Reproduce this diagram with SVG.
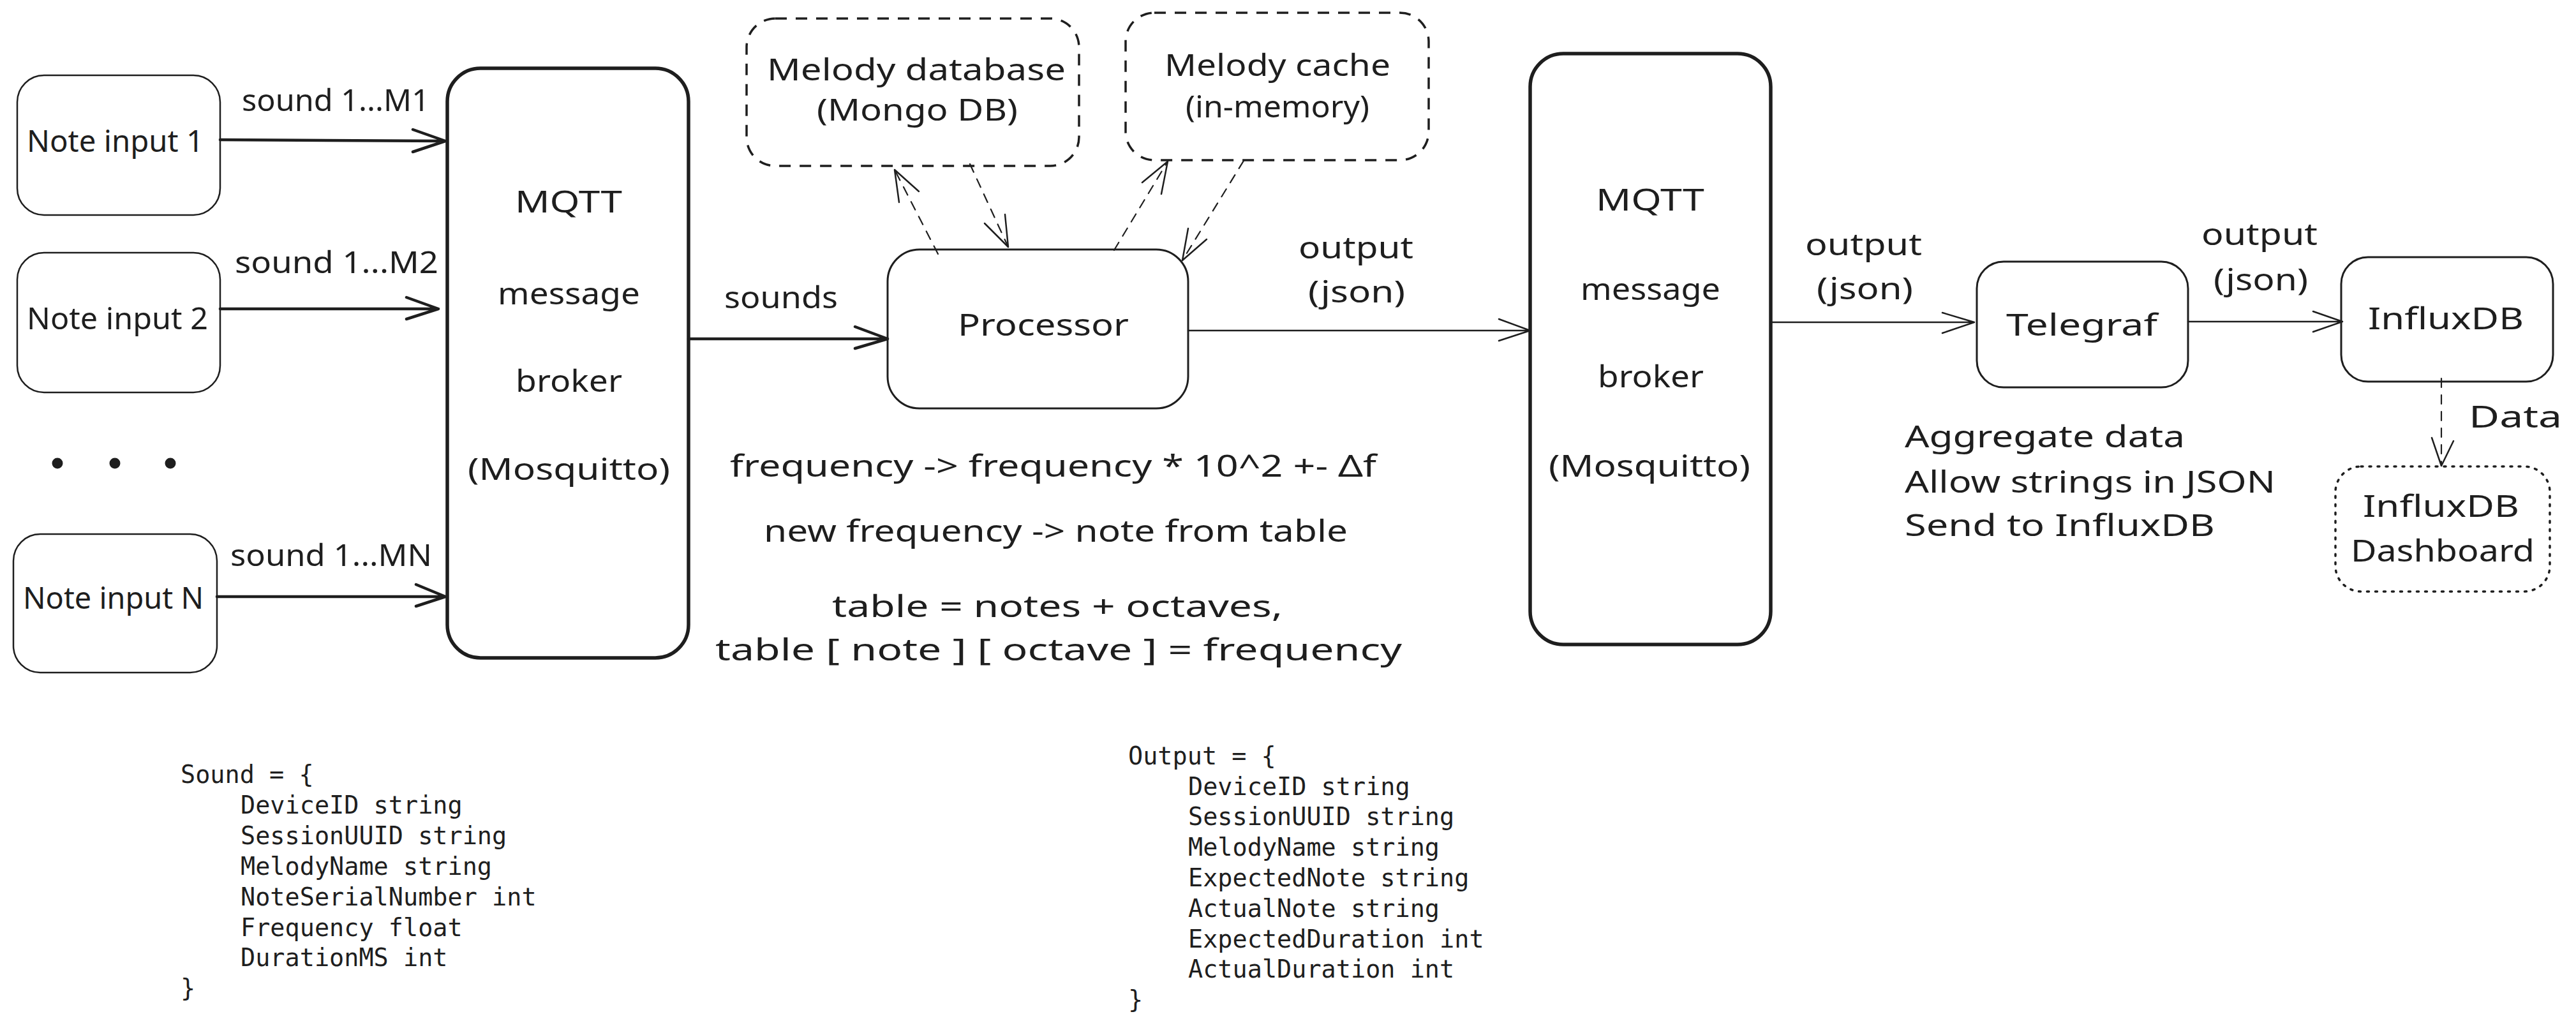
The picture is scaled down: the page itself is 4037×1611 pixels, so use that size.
<svg xmlns="http://www.w3.org/2000/svg" width="4037" height="1611" viewBox="0 0 4037 1611">
<defs>
<style>
.bg{fill:#ffffff}
.box{fill:none;stroke:#1e1e1e;stroke-width:3;stroke-linejoin:round}
.thin{stroke-width:2.5}
.thick{stroke-width:5.5}
.dash{stroke-dasharray:18 14;stroke-width:3.5}
.dot{stroke-dasharray:3 10;stroke-width:3.5;stroke-linecap:round}
.ln{fill:none;stroke:#1e1e1e;stroke-linecap:round;stroke-linejoin:round}
.l4{stroke-width:4.5}
.l2{stroke-width:2.5}
.ld{stroke-width:2.2;stroke-dasharray:14 12}
.t{font-family:"Noto Sans","DejaVu Sans",sans-serif;font-size:48px;fill:#1e1e1e}
.c{font-family:"DejaVu Sans Mono","Liberation Mono",monospace;font-size:38.5px;fill:#1e1e1e}
</style>
</defs>
<rect class="bg" x="0" y="0" width="4037" height="1611"/>

<g id="connectors">
  <!-- note inputs to broker -->
  <path class="ln l4" d="M345 219 L698 221 M647 203 L698 221 L647 238"/>
  <path class="ln l4" d="M345 484 L687 484 M637 466 L687 484 L637 500"/>
  <path class="ln l4" d="M340 935 L698 935 M652 916 L698 935 L652 950"/>
  <!-- broker to processor -->
  <path class="ln l4" d="M1079 531 L1391 531 M1340 512 L1391 531 L1340 546"/>
  <!-- processor to broker 2 -->
  <path class="ln l2" d="M1862 518 L2398 518 M2349 500 L2398 518 L2349 534"/>
  <!-- broker 2 to telegraf -->
  <path class="ln l2" d="M2775 505 L3094 505 M3044 490 L3094 505 L3044 522"/>
  <!-- telegraf to influx -->
  <path class="ln l2" d="M3429 504 L3671 504 M3625 488 L3671 504 L3625 520"/>
  <!-- dashed DB/cache arrows -->
  <path class="ln ld" d="M1470 398 L1402 266"/>
  <path class="ln l2" d="M1409 317 L1402 266 L1440 300"/>
  <path class="ln ld" d="M1520 257 L1580 387"/>
  <path class="ln l2" d="M1543 350 L1580 387 L1575 336"/>
  <path class="ln ld" d="M1746 392 L1830 253"/>
  <path class="ln l2" d="M1790 286 L1830 253 L1820 304"/>
  <path class="ln ld" d="M1949 252 L1853 408"/>
  <path class="ln l2" d="M1862 358 L1853 408 L1891 375"/>
  <!-- influx to dashboard -->
  <path class="ln ld" d="M3826 593 L3826 730"/>
  <path class="ln l2" d="M3811 686 L3826 730 L3845 691"/>
</g>

<g id="note-input-1">
  <rect class="box thin" x="27" y="118" width="318" height="219" rx="42"/>
  <text class="t" x="42" y="238" textLength="277" lengthAdjust="spacingAndGlyphs">Note input 1</text>
</g>
<g id="note-input-2">
  <rect class="box thin" x="27" y="396" width="318" height="219" rx="42"/>
  <text class="t" x="42" y="516" textLength="284" lengthAdjust="spacingAndGlyphs">Note input 2</text>
</g>
<g id="ellipsis">
  <circle cx="90" cy="726" r="8.5" fill="#1e1e1e"/>
  <circle cx="180" cy="726" r="8.5" fill="#1e1e1e"/>
  <circle cx="267" cy="726" r="8.5" fill="#1e1e1e"/>
</g>
<g id="note-input-n">
  <rect class="box thin" x="21" y="837" width="319" height="217" rx="42"/>
  <text class="t" x="36" y="954" textLength="283" lengthAdjust="spacingAndGlyphs">Note input N</text>
</g>

<g id="labels-sound">
  <text class="t" x="379" y="174" textLength="294" lengthAdjust="spacingAndGlyphs">sound 1...M1</text>
  <text class="t" x="368" y="428" textLength="319" lengthAdjust="spacingAndGlyphs">sound 1...M2</text>
  <text class="t" x="361" y="887" textLength="316" lengthAdjust="spacingAndGlyphs">sound 1...MN</text>
  <text class="t" x="1135" y="483" textLength="178" lengthAdjust="spacingAndGlyphs">sounds</text>
</g>

<g id="broker-1">
  <rect class="box thick" x="701" y="107" width="378" height="924" rx="52"/>
  <text class="t" x="807" y="333" textLength="168" lengthAdjust="spacingAndGlyphs">MQTT</text>
  <text class="t" x="780" y="477" textLength="223" lengthAdjust="spacingAndGlyphs">message</text>
  <text class="t" x="808" y="614" textLength="167" lengthAdjust="spacingAndGlyphs">broker</text>
  <text class="t" x="733" y="752" textLength="317" lengthAdjust="spacingAndGlyphs">(Mosquitto)</text>
</g>

<g id="melody-database">
  <rect class="box dash" x="1170" y="29" width="521" height="231" rx="45"/>
  <text class="t" x="1202" y="126" textLength="468" lengthAdjust="spacingAndGlyphs">Melody database</text>
  <text class="t" x="1280" y="189" textLength="315" lengthAdjust="spacingAndGlyphs">(Mongo DB)</text>
</g>

<g id="melody-cache">
  <rect class="box dash" x="1764" y="20" width="475" height="231" rx="45"/>
  <text class="t" x="1825" y="119" textLength="354" lengthAdjust="spacingAndGlyphs">Melody cache</text>
  <text class="t" x="1858" y="184" textLength="288" lengthAdjust="spacingAndGlyphs">(in-memory)</text>
</g>

<g id="processor">
  <rect class="box" x="1391" y="391" width="471" height="249" rx="50"/>
  <text class="t" x="1501" y="526" textLength="268" lengthAdjust="spacingAndGlyphs">Processor</text>
</g>

<g id="processor-notes">
  <text class="t" x="1144" y="747" textLength="1013" lengthAdjust="spacingAndGlyphs">frequency -&gt; frequency * 10^2 +- Δf</text>
  <text class="t" x="1197" y="849" textLength="915" lengthAdjust="spacingAndGlyphs">new frequency -&gt; note from table</text>
  <text class="t" x="1304" y="967" textLength="706" lengthAdjust="spacingAndGlyphs">table = notes + octaves,</text>
  <text class="t" x="1121" y="1035" textLength="1076" lengthAdjust="spacingAndGlyphs">table [ note ] [ octave ] = frequency</text>
</g>

<g id="labels-output">
  <text class="t" x="2035" y="405" textLength="180" lengthAdjust="spacingAndGlyphs">output</text>
  <text class="t" x="2050" y="474" textLength="152" lengthAdjust="spacingAndGlyphs">(json)</text>
  <text class="t" x="2829" y="400" textLength="183" lengthAdjust="spacingAndGlyphs">output</text>
  <text class="t" x="2847" y="469" textLength="151" lengthAdjust="spacingAndGlyphs">(json)</text>
  <text class="t" x="3450" y="384" textLength="182" lengthAdjust="spacingAndGlyphs">output</text>
  <text class="t" x="3469" y="455" textLength="148" lengthAdjust="spacingAndGlyphs">(json)</text>
  <text class="t" x="3869" y="670" textLength="146" lengthAdjust="spacingAndGlyphs">Data</text>
</g>

<g id="broker-2">
  <rect class="box thick" x="2398" y="84" width="377" height="926" rx="52"/>
  <text class="t" x="2501" y="330" textLength="170" lengthAdjust="spacingAndGlyphs">MQTT</text>
  <text class="t" x="2477" y="470" textLength="219" lengthAdjust="spacingAndGlyphs">message</text>
  <text class="t" x="2504" y="607" textLength="166" lengthAdjust="spacingAndGlyphs">broker</text>
  <text class="t" x="2427" y="747" textLength="316" lengthAdjust="spacingAndGlyphs">(Mosquitto)</text>
</g>

<g id="telegraf">
  <rect class="box" x="3098" y="410" width="331" height="197" rx="42"/>
  <text class="t" x="3144" y="526" textLength="237" lengthAdjust="spacingAndGlyphs">Telegraf</text>
</g>

<g id="telegraf-notes">
  <text class="t" x="2985" y="701" textLength="439" lengthAdjust="spacingAndGlyphs">Aggregate data</text>
  <text class="t" x="2985" y="772" textLength="581" lengthAdjust="spacingAndGlyphs">Allow strings in JSON</text>
  <text class="t" x="2985" y="840" textLength="486" lengthAdjust="spacingAndGlyphs">Send to InfluxDB</text>
</g>

<g id="influxdb">
  <rect class="box" x="3669" y="403" width="332" height="195" rx="42"/>
  <text class="t" x="3711" y="516" textLength="244" lengthAdjust="spacingAndGlyphs">InfluxDB</text>
</g>

<g id="influxdb-dashboard">
  <rect class="box dot" x="3660" y="731" width="336" height="196" rx="40"/>
  <text class="t" x="3703" y="810" textLength="245" lengthAdjust="spacingAndGlyphs">InfluxDB</text>
  <text class="t" x="3684" y="880" textLength="288" lengthAdjust="spacingAndGlyphs">Dashboard</text>
</g>

<g id="sound-struct">
  <text class="c" x="283" y="1227">Sound = {</text>
  <text class="c" x="377" y="1275">DeviceID string</text>
  <text class="c" x="377" y="1323">SessionUUID string</text>
  <text class="c" x="377" y="1371">MelodyName string</text>
  <text class="c" x="377" y="1419">NoteSerialNumber int</text>
  <text class="c" x="377" y="1467">Frequency float</text>
  <text class="c" x="377" y="1514">DurationMS int</text>
  <text class="c" x="283" y="1562">}</text>
</g>

<g id="output-struct">
  <text class="c" x="1768" y="1198">Output = {</text>
  <text class="c" x="1862" y="1246">DeviceID string</text>
  <text class="c" x="1862" y="1293">SessionUUID string</text>
  <text class="c" x="1862" y="1341">MelodyName string</text>
  <text class="c" x="1862" y="1389">ExpectedNote string</text>
  <text class="c" x="1862" y="1437">ActualNote string</text>
  <text class="c" x="1862" y="1485">ExpectedDuration int</text>
  <text class="c" x="1862" y="1532">ActualDuration int</text>
  <text class="c" x="1768" y="1580">}</text>
</g>
</svg>
